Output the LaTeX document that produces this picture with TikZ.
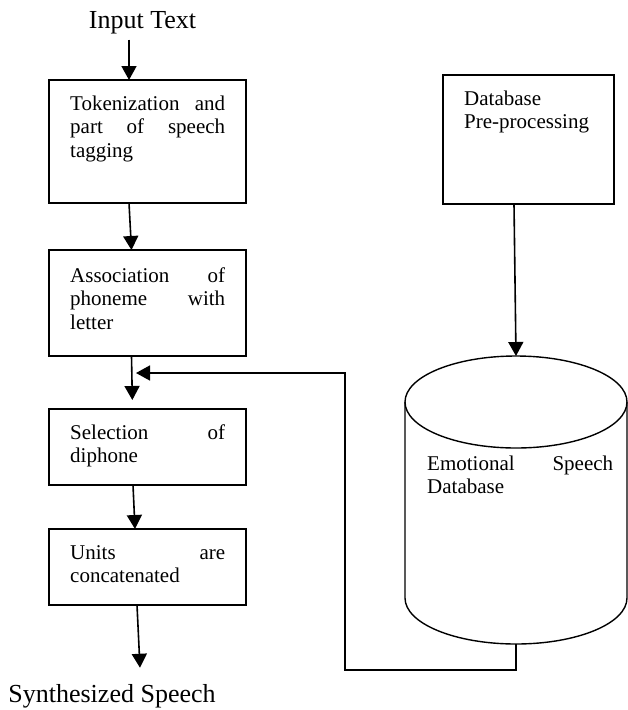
\documentclass[tikz,border=0pt]{standalone}
\usepackage{fontspec}
\setmainfont{Liberation Serif}
\usetikzlibrary{arrows.meta}

\tikzset{
  box/.style={draw, line width=1.6pt, minimum width=197pt, inner sep=0pt, outer sep=0pt},
  boxtxt/.style={font=\fontsize{21}{23.5}\selectfont, text width=160pt, align=left,
                 inner sep=0pt, anchor=north west},
  biglabel/.style={font=\fontsize{26}{30}\selectfont, inner sep=0pt, anchor=base},
  arr/.style={line width=1.6pt, line join=miter,
              -{Triangle[length=14pt,width=15pt]}},
  cyl/.style={line width=1.4pt},
}
% a justified line of a given width
\newcommand{\jline}[2]{\leavevmode\hbox to #1{#2}}

\begin{document}
\begin{tikzpicture}[x=1pt, y=-1pt]
\useasboundingbox (0,0) rectangle (628,710);

% end labels
\node[biglabel] (in)  at (142.5,28) {Input Text};
\node[biglabel] (out) at (112,702)  {Synthesized Speech};

% processing chain
\node[box, minimum height=123pt] (b1) at (147.5,141.5) {};
\node[box, minimum height=106pt] (b2) at (147.5,303)   {};
\node[box, minimum height=76pt]  (b3) at (147.5,447)   {};
\node[box, minimum height=76pt]  (b4) at (147.5,567)   {};

\node[boxtxt] (t1) at ([shift={(21,13.5)}]b1.north west)
  {\strut\jline{155pt}{Tokenization\hfill and}\\\jline{155pt}{part\hfill of\hfill speech}\\tagging};
\node[boxtxt] (t2) at ([shift={(21,15.5)}]b2.north west)
  {\strut\jline{155pt}{Association\hfill of}\\\jline{155pt}{phoneme\hfill with}\\letter};
\node[boxtxt] (t3) at ([shift={(21,13.5)}]b3.north west)
  {\strut\jline{155pt}{Selection\hfill of}\\diphone};
\node[boxtxt] (t4) at ([shift={(21,13.5)}]b4.north west)
  {\strut\jline{155pt}{Units\hfill are}\\concatenated};

% database side
\node[box, minimum width=171pt, minimum height=129pt] (rb) at (528.5,139.5) {};
\node[boxtxt] (rt) at ([shift={(21,13.5)}]rb.north west)
  {\strut Database\\Pre-processing};

\coordinate (dbtop) at (516,356);
\coordinate (dbbot) at (516,644);
\draw[cyl] (516,402) ellipse [x radius=111pt, y radius=46pt];
\draw[cyl] (405,402) -- (405,598)
  arc[start angle=180, end angle=360, x radius=111pt, y radius=46pt]
  -- (627,402);
\node[boxtxt, text width=190pt] (dbt) at (427,453.5)
  {\strut\jline{186pt}{Emotional\hfill Speech}\\Database};

% flow arrows
\draw[arr] ([shift={(-13.5,6)}]in.south) -- ([xshift=-18.5]b1.north);
\draw[arr] ([xshift=-18.5]b1.south) -- ([xshift=-16]b2.north);
\draw[arr, shorten >=9pt] ([xshift=-16]b2.south) -- ([xshift=-15]b3.north);
\draw[arr] ([xshift=-14.5]b3.south) -- ([xshift=-12.5]b4.north);
\draw[arr] ([xshift=-10.5]b4.south) -- ([shift={(28,-16)}]out.north);

\draw[arr] ([xshift=-14.5]rb.south) -- (dbtop);

% feedback from the database
\coordinate (fbcorner) at (345,670);
\coordinate (fbtop)    at (345,373);
\coordinate (fbtip)    at (136,373);
\draw[arr] (dbbot) |- (fbcorner) -- (fbtop) -- (fbtip);
\end{tikzpicture}
\end{document}
